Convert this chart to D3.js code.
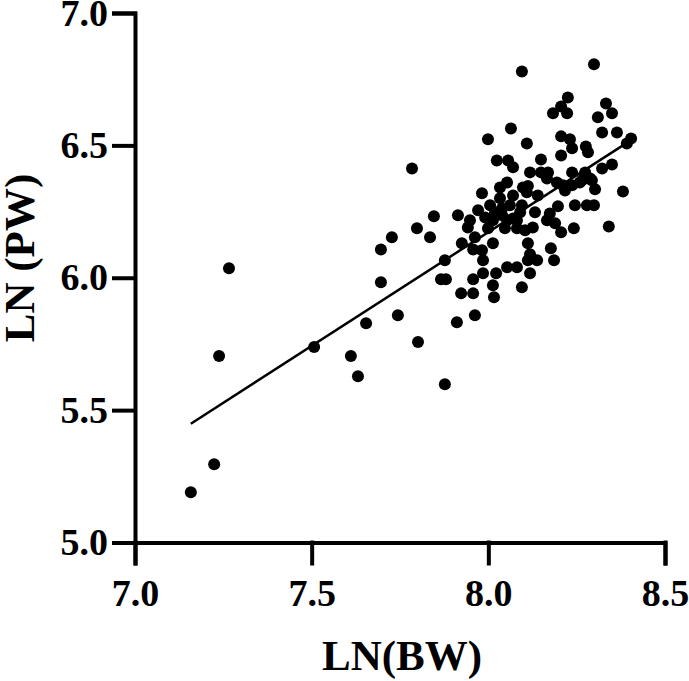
<!DOCTYPE html>
<html>
<head>
<meta charset="utf-8">
<script src="https://cdn.jsdelivr.net/npm/d3@7"></script>
<style>
  body { margin: 0; background: #fff; }
  svg text { font-family: "Liberation Serif", "Times New Roman", serif; font-weight: bold; fill: #000; }
</style>
</head>
<body>
<div id="chart"></div>
<script>
// LN(BW) values
const bw = [
  7.158, 7.224, 7.238, 7.266, 7.507, 7.611, 7.631, 7.801, 7.654, 7.744,
  7.696, 7.696, 7.727, 7.798, 7.835, 7.846, 7.784, 7.866, 7.880, 7.877,
  7.877, 7.911, 7.923, 7.957, 7.962, 7.957, 7.985, 8.022, 8.013, 8.016,
  8.053, 8.081, 8.095, 7.925, 7.957, 7.982, 8.013, 7.985, 7.962, 7.942,
  7.914, 7.948, 7.971, 7.991, 8.013, 8.005, 7.982, 8.033, 8.053, 8.039,
  8.039, 8.047, 8.053, 8.081, 8.081, 8.095, 8.104, 8.126, 8.098, 8.109,
  8.140, 8.166, 8.174, 8.197, 8.189, 8.206, 8.245, 8.279, 8.299, 8.242,
  8.341, 8.112, 8.118, 8.138, 8.112, 8.177, 8.186, 8.118, 8.194, 8.211,
  8.217, 8.237, 8.259, 8.293, 8.302, 8.381, 8.095, 8.299, 8.225, 8.206,
  8.183, 8.223, 8.333, 8.350, 8.310, 8.064, 8.322, 8.364, 7.999, 8.109,
  8.206, 8.231, 8.237, 8.276, 8.282, 8.404, 8.392, 8.024, 8.056, 8.070,
  8.149, 8.206, 8.118, 8.149, 8.169, 8.166, 8.237, 8.322, 8.350, 8.274,
  8.288, 8.265, 8.033, 8.070, 8.070, 8.112, 8.019, 8.061, 8.090, 7.999,
  8.132
];
// LN(PW) values
const pw = [
  5.190, 5.296, 5.704, 6.036, 5.738, 5.704, 5.628, 5.757, 5.828, 5.858,
  5.983, 6.107, 6.153, 6.187, 6.153, 6.232, 6.413, 5.994, 5.994, 5.598,
  6.066, 5.832, 5.941, 5.941, 5.858, 5.994, 6.017, 6.017, 5.972, 5.926,
  6.040, 6.040, 5.964, 6.130, 6.107, 6.104, 6.130, 6.066, 6.153, 6.190,
  6.236, 6.217, 6.255, 6.228, 6.217, 6.274, 6.319, 6.341, 6.360, 6.262,
  6.236, 6.187, 6.217, 6.217, 6.187, 6.274, 6.179, 6.190, 6.341, 6.323,
  6.311, 6.217, 6.243, 6.270, 6.206, 6.172, 6.274, 6.274, 6.274, 6.187,
  6.194, 6.130, 6.089, 6.066, 6.066, 6.111, 6.066, 6.017, 6.360, 6.349,
  6.330, 6.349, 6.360, 6.368, 6.334, 6.326, 6.779, 6.806, 6.681, 6.647,
  6.621, 6.621, 6.658, 6.621, 6.606, 6.564, 6.549, 6.549, 6.523, 6.507,
  6.534, 6.523, 6.489, 6.496, 6.474, 6.526, 6.507, 6.443, 6.443, 6.417,
  6.447, 6.462, 6.398, 6.398, 6.398, 6.375, 6.398, 6.413, 6.428, 6.398,
  6.375, 6.368, 6.300, 6.311, 6.224, 6.347, 6.247, 6.274, 6.247, 6.187,
  6.247
];

// fitted line y = a + b*x, drawn over the data range
const fitIntercept = -0.7076;
const fitSlope = 0.86;

const xTicks = [7.0, 7.5, 8.0, 8.5];
const yTicks = [5.0, 5.5, 6.0, 6.5, 7.0];

const W = 689, H = 681;

const svg = d3.select("#chart")
    .append("svg")
    .attr("width", W)
    .attr("height", H);

const x = d3.scaleLinear().domain([7, 8.5]).range([135, 665]);
const y = d3.scaleLinear().domain([5, 7]).range([542.5, 13]);

const points = bw.map((v, i) => ({ bw: v, pw: pw[i] }));

// Axes
const xAxis = svg.append("g")
    .attr("transform", `translate(0,${y(5)})`)
    .call(d3.axisBottom(x).tickValues(xTicks).tickFormat(d3.format(".1f"))
        .tickSize(21).tickPadding(16));

const yAxis = svg.append("g")
    .attr("transform", `translate(${x(7)},0)`)
    .call(d3.axisLeft(y).tickValues(yTicks).tickFormat(d3.format(".1f"))
        .tickSize(21).tickPadding(6));

[xAxis, yAxis].forEach(g => {
    g.selectAll("path, line")
        .attr("stroke", "#000")
        .attr("stroke-width", 4)
        .attr("stroke-linecap", "square");
    g.selectAll("text")
        .style("font-size", "38px")
        .attr("fill", "#000");
});

// Regression line
const xr = d3.extent(bw);
svg.append("line")
    .attr("x1", x(xr[0]))
    .attr("y1", y(fitIntercept + fitSlope * xr[0]))
    .attr("x2", x(xr[1]))
    .attr("y2", y(fitIntercept + fitSlope * xr[1]))
    .attr("stroke", "#000")
    .attr("stroke-width", 2.5);

// Points
svg.selectAll(".dot")
    .data(points)
    .enter()
    .append("circle")
    .attr("class", "dot")
    .attr("cx", d => x(d.bw))
    .attr("cy", d => y(d.pw))
    .attr("r", 6)
    .attr("fill", "#000");

// Axis titles
svg.append("text")
    .attr("x", 402)
    .attr("y", 670)
    .attr("text-anchor", "middle")
    .style("font-size", "43px")
    .text("LN(BW)");

svg.append("text")
    .attr("transform", "translate(34,258) rotate(-90)")
    .attr("text-anchor", "middle")
    .style("font-size", "43px")
    .text("LN (PW)");
</script>
</body>
</html>
